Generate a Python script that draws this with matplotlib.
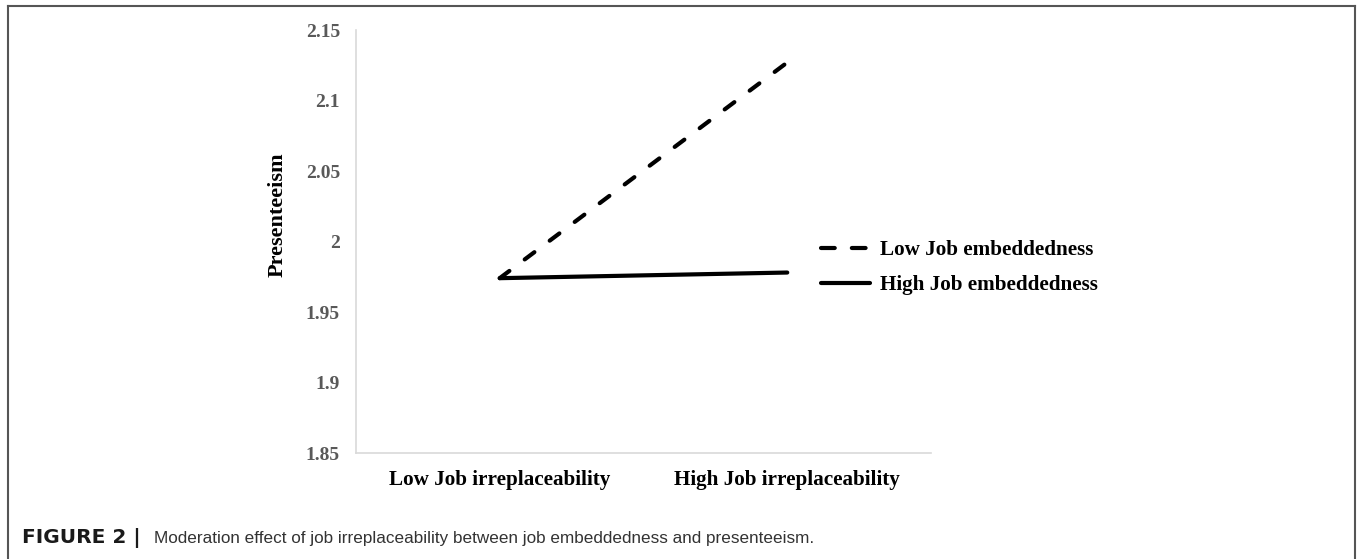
import matplotlib
matplotlib.use("Agg")
import matplotlib.pyplot as plt
from matplotlib.lines import Line2D

# data
categories = ["Low Job irreplaceability", "High Job irreplaceability"]
low_embed = [1.974, 2.127]
high_embed = [1.974, 1.978]
yticks = [1.85, 1.9, 1.95, 2.0, 2.05, 2.1, 2.15]
ytick_labels = ["1.85", "1.9", "1.95", "2", "2.05", "2.1", "2.15"]

serif = "Liberation Serif"
dash = (0, (2.9, 4.6))

fig = plt.figure(figsize=(13.57, 5.59), dpi=100)
ax = fig.add_axes([0.2623, 0.1896, 0.4238, 0.7567])

x = range(len(categories))
ax.plot(x, low_embed, color="black", lw=3, linestyle=dash,
        dash_capstyle="round", label="Low Job embeddedness")
ax.plot(x, high_embed, color="black", lw=3, solid_capstyle="round",
        label="High Job embeddedness")

ax.set_xlim(-0.5, 1.5)
ax.set_ylim(1.85, 2.15)
ax.set_yticks(yticks)
ax.set_yticklabels(ytick_labels, fontfamily=serif, fontweight="bold",
                   fontsize=14, color="#595959")
ax.set_xticks(list(x))
ax.set_xticklabels(categories, fontfamily=serif, fontweight="bold",
                   fontsize=15.2, color="black")
ax.tick_params(axis="y", length=0, pad=11.5)
ax.tick_params(axis="x", length=0, pad=12)

ax.set_ylabel("Presenteeism", fontfamily=serif, fontweight="bold", fontsize=16)
ax.yaxis.set_label_coords(-0.118, 0.563)

for side in ["top", "right"]:
    ax.spines[side].set_visible(False)
for side in ["left", "bottom"]:
    ax.spines[side].set_color("#d9d9d9")
    ax.spines[side].set_linewidth(1.2)

leg = ax.legend(loc="center left", bbox_to_anchor=(0.8087, 0.438), frameon=False,
                prop={"family": serif, "weight": "bold", "size": 15.2},
                borderpad=0, borderaxespad=0,
                handlelength=2.3, handletextpad=0.48, labelspacing=0.7)
leg.get_lines()[0].set_linestyle((0, (3.3, 4.1)))

# outer frame (open at the bottom)
fw = 1357.0
fh = 559.0
frame_kw = dict(color="#555555", lw=1.5, transform=fig.transFigure)
fig.add_artist(Line2D([8 / fw, 8 / fw], [0, 1 - 6 / fh], **frame_kw))
fig.add_artist(Line2D([8 / fw, 1355 / fw], [1 - 6 / fh, 1 - 6 / fh], **frame_kw))
fig.add_artist(Line2D([1355 / fw, 1355 / fw], [0, 1 - 6 / fh], **frame_kw))

# caption
cap_y = 1 - 538 / fh
fig.text(22 / fw, cap_y, "FIGURE 2 |", fontfamily="DejaVu Sans",
         fontweight="bold", fontsize=14.5, va="center", color="#1a1a1a")
fig.text(154 / fw, cap_y,
         "Moderation effect of job irreplaceability between job embeddedness and presenteeism.",
         fontfamily="Liberation Sans", fontsize=12.3, va="center", color="#333333")

fig.savefig("out.png", dpi=100)
